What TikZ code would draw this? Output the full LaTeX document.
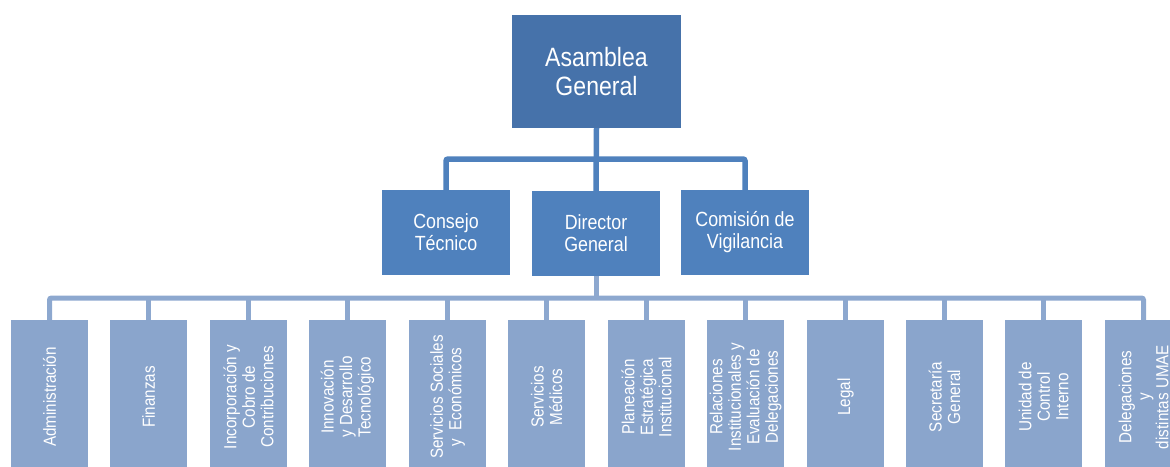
\documentclass[tikz,border=0pt]{standalone}
\usepackage{fontspec}
\setmainfont{Liberation Sans}
\newfontfamily\cond[FakeStretch=0.87]{Liberation Sans}
\definecolor{topc}{HTML}{4672AA}
\definecolor{midc}{HTML}{4F81BD}
\definecolor{botc}{HTML}{8AA5CC}
\definecolor{linebot}{HTML}{8DA8CF}
\begin{document}
\begin{tikzpicture}[x=1pt,y=-1pt,
  topbox/.style={fill=topc, draw=none, minimum width=169pt, minimum height=113pt, inner sep=0pt,
    text=white, align=center, font=\cond\fontsize{26.5}{29}\selectfont},
  midbox/.style={fill=midc, draw=none, minimum width=128pt, minimum height=85pt, inner sep=0pt,
    text=white, align=center, font=\cond\fontsize{20.5}{22}\selectfont},
  botbox/.style={fill=botc, draw=none, rotate=90, minimum width=154pt, minimum height=77pt, inner sep=0pt,
    text=white, align=center, font=\cond\fontsize{17.5}{18.5}\selectfont},
  conntop/.style={draw=midc, line width=5.5pt, rounded corners=2pt},
  connbot/.style={draw=linebot, line width=5pt, rounded corners=2pt}]
\path[use as bounding box] (0,0) rectangle (1170,466);

% connectors first (behind boxes)
\coordinate (h1) at (596,159);
\coordinate (h2) at (596,298);

\node[topbox] (ag) at (596.5,71.5) {Asamblea\\General};
\node[midbox] (ct) at (446,232.5) {Consejo\\Técnico};
\node[midbox] (dg) at (596,233.5) {Director\\General};
\node[midbox] (cv) at (745,232.5) {Comisión de\\Vigilancia};

\node[botbox] (b1) at (49.5,397) {Administración};
\node[botbox] (b2) at (148.5,397) {Finanzas};
\node[botbox] (b3) at (248.5,397) {Incorporación y\\Cobro de\\Contribuciones};
\node[botbox] (b4) at (347.5,397) {Innovación\\y Desarrollo\\Tecnológico};
\node[botbox] (b5) at (447.5,397) {Servicios Sociales\\ y \ Económicos};
\node[botbox] (b6) at (546.5,397) {Servicios\\Médicos};
\node[botbox] (b7) at (646.5,397) {Planeación\\Estratégica\\Institucional};
\node[botbox] (b8) at (745.5,397) {Relaciones\\Institucionales y\\Evaluación de\\Delegaciones};
\node[botbox] (b9) at (845.5,397) {Legal};
\node[botbox] (b10) at (944.5,397) {Secretaría\\General};
\node[botbox] (b11) at (1043.5,397) {Unidad de\\Control\\Interno};
\node[botbox] (b12) at (1143.5,397) {Delegaciones\\y\\distintas UMAE};

\begin{scope}[on background layer/.style={}]
\end{scope}

\draw[conntop] (ag.south) -- (dg.north);
\draw[conntop] (ct.north) |- (h1) -| (cv.north);
\draw[connbot] (dg.south) -- (h2);
\draw[connbot] (b1.east) |- (h2) -| (b12.east);
\foreach \i in {2,...,11} {
  \draw[connbot] (b\i.east) -- (b\i.east |- h2);
}
\end{tikzpicture}
\end{document}
